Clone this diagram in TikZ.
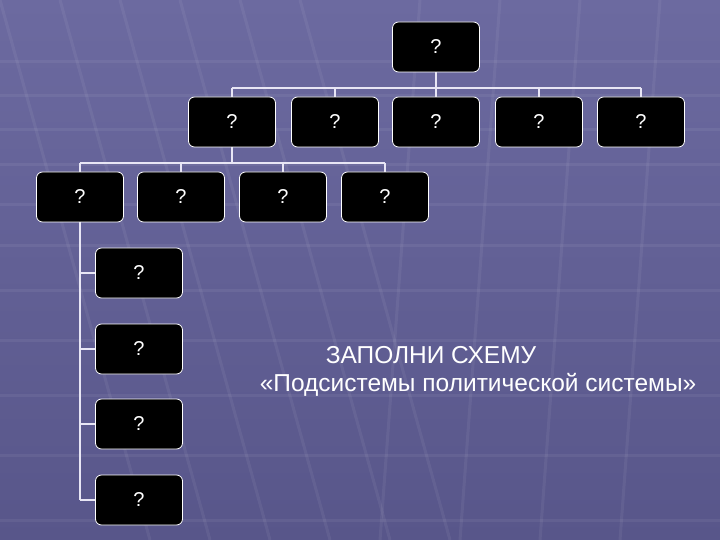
\documentclass[tikz,border=0pt]{standalone}
\usepackage{fontspec}
\setmainfont{Liberation Sans}
\definecolor{bgtop}{RGB}{108,106,160}
\definecolor{bgbot}{RGB}{88,86,138}
\definecolor{linec}{RGB}{232,230,245}
\begin{document}
\begin{tikzpicture}[x=1pt,y=-1pt,
  qbox/.style={draw=white, line width=0.8pt, fill=black, rounded corners=6pt,
    minimum width=87pt, minimum height=50pt, inner sep=0pt, text=white,
    font=\fontsize{20}{20}\selectfont},
  conn/.style={draw=linec, line width=2pt},
  grid/.style={draw=white, opacity=0.06, line width=3pt}]
\shade[top color=bgtop, bottom color=bgbot] (0,0) rectangle (720,540);
\useasboundingbox (0,0) rectangle (720,540);
% faint background grid
\foreach \y in {62,96,130,165,205,245,290,340,395,455,520}
  \draw[grid] (0,\y) -- (720,\y);
\foreach \x in {0,60,120,180,240,300}
  \draw[grid] (\x,0) -- (\x+150,540);
\foreach \x in {420,500,580,660}
  \draw[grid] (\x,0) -- (\x-40,540);

% nodes
\node[qbox] (top) at (436,47) {?};
\node[qbox] (b1) at (232,122) {?};
\node[qbox] (b2) at (335,122) {?};
\node[qbox] (b3) at (436,122) {?};
\node[qbox] (b4) at (539,122) {?};
\node[qbox] (b5) at (641,122) {?};
\node[qbox] (c1) at (80,197) {?};
\node[qbox] (c2) at (181,197) {?};
\node[qbox] (c3) at (283,197) {?};
\node[qbox] (c4) at (385,197) {?};
\node[qbox] (d1) at (139,273) {?};
\node[qbox] (d2) at (139,349) {?};
\node[qbox] (d3) at (139,424) {?};
\node[qbox] (d4) at (139,500) {?};

% connectors top -> row 2
\coordinate (h1) at (436,88);
\draw[conn] (top.south) -- (h1);
\draw[conn] (b1.north |- h1) -- (b5.north |- h1);
\foreach \n in {b1,b2,b3,b4,b5} \draw[conn] (\n.north |- h1) -- (\n.north);
% b1 -> row 3
\coordinate (h2) at (232,163);
\draw[conn] (b1.south) -- (h2);
\draw[conn] (c1.north |- h2) -- (c4.north |- h2);
\foreach \n in {c1,c2,c3,c4} \draw[conn] (\n.north |- h2) -- (\n.north);
% c1 -> column
\draw[conn] (c1.south) -- (c1.south |- d4.west);
\foreach \n in {d1,d2,d3,d4} \draw[conn] (c1.south |- \n.west) -- (\n.west);

% title
\node[text=white, font=\fontsize{24.5}{24.5}\selectfont, anchor=center] (t1) at (431,355) {ЗАПОЛНИ СХЕМУ};
\node[text=white, font=\fontsize{24.5}{24.5}\selectfont, anchor=center] (t2) at (478,385) {«Подсистемы политической системы»};
\end{tikzpicture}
\end{document}
